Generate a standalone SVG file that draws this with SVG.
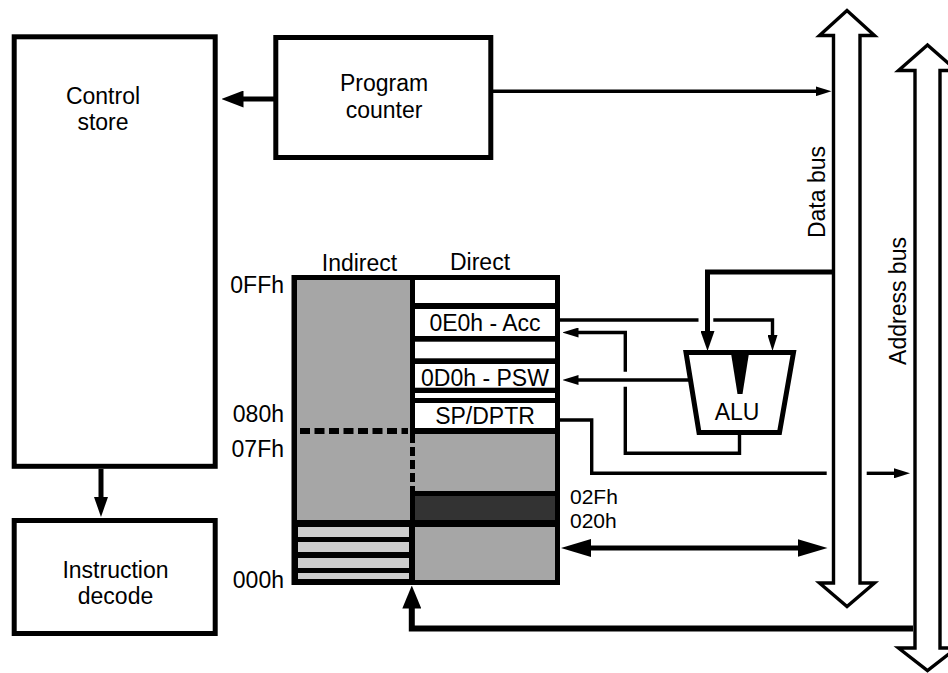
<svg xmlns="http://www.w3.org/2000/svg" width="948" height="673" viewBox="0 0 948 673">
<style>
text{font-family:"Liberation Sans",Arial,sans-serif;font-size:23px;fill:#000}
.box{fill:#fff;stroke:#000;stroke-width:5}
.bus{fill:#fff;stroke:#000;stroke-width:3.4;stroke-linejoin:miter}
.thin{fill:none;stroke:#000;stroke-width:3.4}
.thick{fill:none;stroke:#000;stroke-width:5}
.mid{text-anchor:middle}
.end{text-anchor:end}
.small{font-size:21px}
</style>
<defs>
<marker id="aThin" markerUnits="userSpaceOnUse" viewBox="0 0 16 10" refX="0.5" refY="5" markerWidth="16" markerHeight="10" orient="auto"><path d="M0,0 L16,5 L0,10 z"/></marker>
<marker id="aMed" markerUnits="userSpaceOnUse" viewBox="0 0 20 14" refX="0.5" refY="7" markerWidth="20" markerHeight="14" orient="auto"><path d="M0,0 L20,7 L0,14 z"/></marker>
<marker id="aThick" markerUnits="userSpaceOnUse" viewBox="0 0 22 17" refX="0.5" refY="8.5" markerWidth="22" markerHeight="17" orient="auto"><path d="M0,0 L22,8.5 L0,17 z"/></marker>
<marker id="aBig" markerUnits="userSpaceOnUse" viewBox="0 0 30 18" refX="0.5" refY="9" markerWidth="30" markerHeight="18" orient="auto-start-reverse"><path d="M0,0 L30,9 L0,18 z"/></marker>
<marker id="aUp" markerUnits="userSpaceOnUse" viewBox="0 0 23 19" refX="0.5" refY="9.5" markerWidth="23" markerHeight="19" orient="auto"><path d="M0,0 L23,9.5 L0,19 z"/></marker>
</defs>

<g id="data-bus">
<polygon class="bus" points="847,10.5 819.5,35.5 833.5,35.5 833.5,583 819.5,583 847,606.5 874.5,583 860,583 860,35.5 874.5,35.5"/>
<text transform="translate(825,192) rotate(-90)" class="mid">Data bus</text>
</g>
<g id="address-bus">
<polygon class="bus" points="927.5,45 898.5,70.5 915,70.5 915,648 898.5,648 927.5,670.5 956.5,648 940,648 940,70.5 956.5,70.5"/>
<text transform="translate(906,301) rotate(-90)" class="mid">Address bus</text>
</g>

<g id="control-store">
<rect class="box" x="14.2" y="36.8" width="201" height="429.5"/>
<text x="103" y="104" class="mid">Control</text>
<text x="103" y="130" class="mid">store</text>
</g>
<g id="program-counter">
<rect class="box" x="275.8" y="37.5" width="215" height="120"/>
<text x="384" y="90.7" class="mid">Program</text>
<text x="384" y="117.7" class="mid">counter</text>
</g>
<g id="instruction-decode">
<rect class="box" x="14.2" y="520.5" width="201" height="113"/>
<text x="115.5" y="578.3" class="mid">Instruction</text>
<text x="115.5" y="604" class="mid">decode</text>
</g>

<g id="memory">
<rect x="291.5" y="275" width="268.5" height="310" fill="#000"/>
<rect x="297" y="280" width="113" height="240" fill="#a6a6a6"/>
<line x1="300" y1="431" x2="408" y2="431" stroke="#000" stroke-width="6" stroke-dasharray="10 4.5"/>
<rect x="415" y="280" width="140" height="23" fill="#fff"/>
<rect x="415" y="309" width="140" height="27" fill="#fff"/>
<rect x="415" y="341.7" width="140" height="16.6" fill="#fff"/>
<rect x="415" y="364" width="140" height="23.7" fill="#fff"/>
<rect x="415" y="393" width="140" height="5" fill="#fff"/>
<rect x="415" y="403" width="140" height="25" fill="#fff"/>
<rect x="410" y="434" width="145" height="57" fill="#a6a6a6"/>
<line x1="412.5" y1="434" x2="412.5" y2="491" stroke="#000" stroke-width="5" stroke-dasharray="9 4"/>
<rect x="415" y="496" width="140" height="24" fill="#333"/>
<rect x="415" y="527" width="140" height="53" fill="#a6a6a6"/>
<rect x="298" y="527" width="111" height="10" fill="#ccc"/>
<rect x="298" y="542" width="111" height="10" fill="#ccc"/>
<rect x="298" y="558" width="111" height="10" fill="#ccc"/>
<rect x="298" y="573" width="111" height="6" fill="#ccc"/>
<text x="485" y="330.5" class="mid">0E0h - Acc</text>
<text x="485" y="386" class="mid">0D0h - PSW</text>
<text x="485" y="424" class="mid">SP/DPTR</text>
<text x="359.5" y="270.7" class="mid">Indirect</text>
<text x="480" y="270" class="mid">Direct</text>
<text x="284" y="292.7" class="end">0FFh</text>
<text x="284" y="422.3" class="end">080h</text>
<text x="284" y="457.3" class="end">07Fh</text>
<text x="284" y="588" class="end">000h</text>
<text x="570" y="504" class="small">02Fh</text>
<text x="570" y="528" class="small">020h</text>
</g>

<g id="alu">
<polygon points="686,352.5 793.5,352.5 779.5,432.5 699,432.5" fill="#fff" stroke="#000" stroke-width="5" stroke-linejoin="miter"/>
<polygon points="730.5,350 749.5,350 742.5,394 737.5,394" fill="#000"/>
<text x="737" y="420" class="mid">ALU</text>
</g>

<g id="connectors">
<path class="thick" d="M275.8,99 H243" marker-end="url(#aThick)"/>
<path class="thin" d="M493,91.3 H816" marker-end="url(#aThin)"/>
<path class="thick" d="M101,469 V497.5" marker-end="url(#aMed)"/>
<path class="thick" d="M833,272 H707.5 V331.5" marker-end="url(#aMed)"/>
<path class="thin" d="M560,320 H698.5"/>
<path class="thin" d="M713.3,320 H772.5 V335.5" marker-end="url(#aThin)"/>
<path class="thin" d="M739.5,432.5 V453.3 H625.3 V386.7"/>
<path class="thin" d="M625.3,371.7 V332.5 H578" marker-end="url(#aThin)"/>
<path class="thin" d="M690,380 H578" marker-end="url(#aThin)"/>
<path class="thin" d="M560,420 H591.7 V473.3 H826.7"/>
<path class="thin" d="M866.7,473.3 H894.5" marker-end="url(#aThin)"/>
<path class="thick" d="M590.5,548 H798" marker-start="url(#aBig)" marker-end="url(#aBig)"/>
<path fill="none" stroke="#000" stroke-width="6" d="M913,628.5 H411.8 V608" marker-end="url(#aUp)"/>
</g>
</svg>
